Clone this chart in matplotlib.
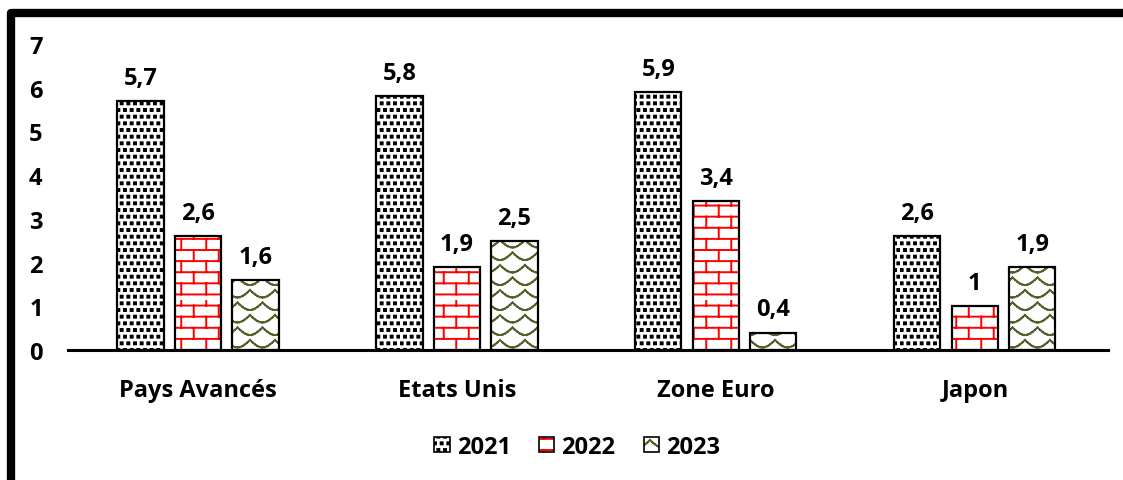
import warnings
import numpy as np
import matplotlib
matplotlib.use("Agg")
import matplotlib.pyplot as plt
import matplotlib.hatch as mhatch
from matplotlib.path import Path
from matplotlib.patches import Rectangle
from matplotlib.legend_handler import HandlerTuple

warnings.filterwarnings("ignore")

categories = ["Pays Avancés", "Etats Unis", "Zone Euro", "Japon"]
years = ["2021", "2022", "2023"]
values_2021 = [5.7, 5.8, 5.9, 2.6]
values_2022 = [2.6, 1.9, 3.4, 1.0]
values_2023 = [1.6, 2.5, 0.4, 1.9]
y_ticks = [0, 1, 2, 3, 4, 5, 6, 7]


# --- custom hatch patterns (tile = unit square) ---
class SquareDotHatch(mhatch.HatchPatternBase):
    """Staggered small filled squares."""
    def __init__(self, hatch, density):
        self.n = 15 if "q" in hatch else 0
        self.num_vertices = self.n * self.n * 5

    def set_vertices_and_codes(self, vertices, codes):
        n = self.n
        s = 0.15 / n
        pts = []
        for r in range(n):
            for c in range(n):
                cx = (c + 0.25 + 0.5 * (r % 2)) / n
                cy = (r + 0.5) / n
                pts += [(cx - s, cy - s), (cx + s, cy - s), (cx + s, cy + s),
                        (cx - s, cy + s), (cx - s, cy - s)]
        vertices[:] = np.array(pts)
        codes[:] = np.tile([Path.MOVETO, Path.LINETO, Path.LINETO,
                            Path.LINETO, Path.CLOSEPOLY], n * n)


class BrickHatch(mhatch.HatchPatternBase):
    """Brick wall: horizontal courses with staggered joints."""
    def __init__(self, hatch, density):
        self.rows = 9 if "b" in hatch else 0
        self.cols = 4
        self.num_vertices = self.rows * (1 + self.cols) * 2

    def set_vertices_and_codes(self, vertices, codes):
        segs = []
        for k in range(self.rows):
            y0 = (k + 0.5) / self.rows
            y1 = (k + 1.5) / self.rows
            segs.append(((-0.05, y0), (1.05, y0)))
            shift = 0.25 + 0.5 * (k % 2)
            for j in range(self.cols):
                x = (j + shift) / self.cols
                segs.append(((x, y0), (x, min(y1, 1.02))))
        vertices[:] = np.array(segs).reshape(-1, 2)
        codes[0::2] = Path.MOVETO
        codes[1::2] = Path.LINETO


class ScaleHatch(mhatch.HatchPatternBase):
    """Staggered scallop arcs, built from short straight segments."""
    def __init__(self, hatch, density):
        self.rows = 8 if "w" in hatch else 0
        self.cols = 4
        self.steps = 10
        arcs = 0
        for k in range(self.rows):
            arcs += self.cols + (k % 2)
        self.num_vertices = arcs * self.steps * 2

    def set_vertices_and_codes(self, vertices, codes):
        segs = []
        h = 0.6 / self.rows
        t = np.linspace(0, 1, self.steps + 1)
        for k in range(self.rows):
            yb = (k + 0.8) / self.rows
            shift = 0.5 * (k % 2)
            start = -1 if k % 2 else 0
            for j in range(start, self.cols):
                xs = (j + shift + t) / self.cols
                ys = yb - h * np.sin(np.pi * t)
                for i in range(self.steps):
                    segs.append(((xs[i], ys[i]), (xs[i + 1], ys[i + 1])))
        vertices[:] = np.array(segs).reshape(-1, 2)
        codes[0::2] = Path.MOVETO
        codes[1::2] = Path.LINETO


mhatch._hatch_types.extend([SquareDotHatch, BrickHatch, ScaleHatch])

plt.rcParams["font.family"] = ["Open Sans", "DejaVu Sans"]
plt.rcParams["font.weight"] = "bold"
plt.rcParams["hatch.linewidth"] = 1.4

FONT_SIZE = 17
series = [values_2021, values_2022, values_2023]
hatches = ["q", "b", "w"]
hatch_colors = ["#000000", "#FF0000", "#4F6228"]
offsets = [-0.222, 0.0, 0.222]
bar_width = 0.178

fig = plt.figure(figsize=(11.23, 4.81), dpi=100)
ax = fig.add_axes([68 / 1123, 130 / 481, 1040 / 1123, 306 / 481])

x = np.arange(len(categories))
handles = []
for vals, hatch, hcol, off in zip(series, hatches, hatch_colors, offsets):
    ax.bar(x + off, vals, bar_width, color="white",
           edgecolor=hcol, hatch=hatch, linewidth=0, zorder=2)
    ax.bar(x + off, vals, bar_width, fill=False, edgecolor="black",
           linewidth=1.6, zorder=3)
    for xi, v in zip(x + off, vals):
        ax.annotate(f"{v:g}".replace(".", ","), (xi, v), xytext=(0, 8),
                    textcoords="offset points", ha="center", va="bottom",
                    fontsize=FONT_SIZE, fontweight="bold")
    handles.append((Rectangle((0, 0), 1, 1, facecolor="white", edgecolor=hcol,
                              hatch=hatch, linewidth=0),
                    Rectangle((0, 0), 1, 1, fill=False, edgecolor="black",
                              linewidth=1.2)))

ax.set_xlim(-0.502, 3.514)
ax.set_ylim(0, 7)
ax.set_yticks(y_ticks)
ax.set_xticks(x)
ax.set_xticklabels(categories)
ax.tick_params(axis="both", length=0, labelsize=FONT_SIZE)
ax.tick_params(axis="y", pad=28)
ax.tick_params(axis="x", pad=20)
for lab in ax.get_yticklabels():
    lab.set_horizontalalignment("left")
for side in ["top", "right", "left"]:
    ax.spines[side].set_visible(False)
ax.spines["bottom"].set_linewidth(2.2)
ax.spines["bottom"].set_zorder(4)

fig.legend(handles, years, handler_map={tuple: HandlerTuple(ndivide=1)},
           loc="center", bbox_to_anchor=(0.514, 0.069), ncol=3, frameon=False,
           fontsize=FONT_SIZE, handlelength=0.65, handleheight=0.65,
           handletextpad=0.3, columnspacing=1.2)

# thick frame cut off on the right and bottom
frame = Rectangle((11 / 1123, -0.2), 1.2, 0.2 + 467 / 481, transform=fig.transFigure,
                  fill=False, edgecolor="black", linewidth=6, joinstyle="round",
                  clip_on=False)
fig.patches.append(frame)

fig.savefig("out.png", dpi=100)
